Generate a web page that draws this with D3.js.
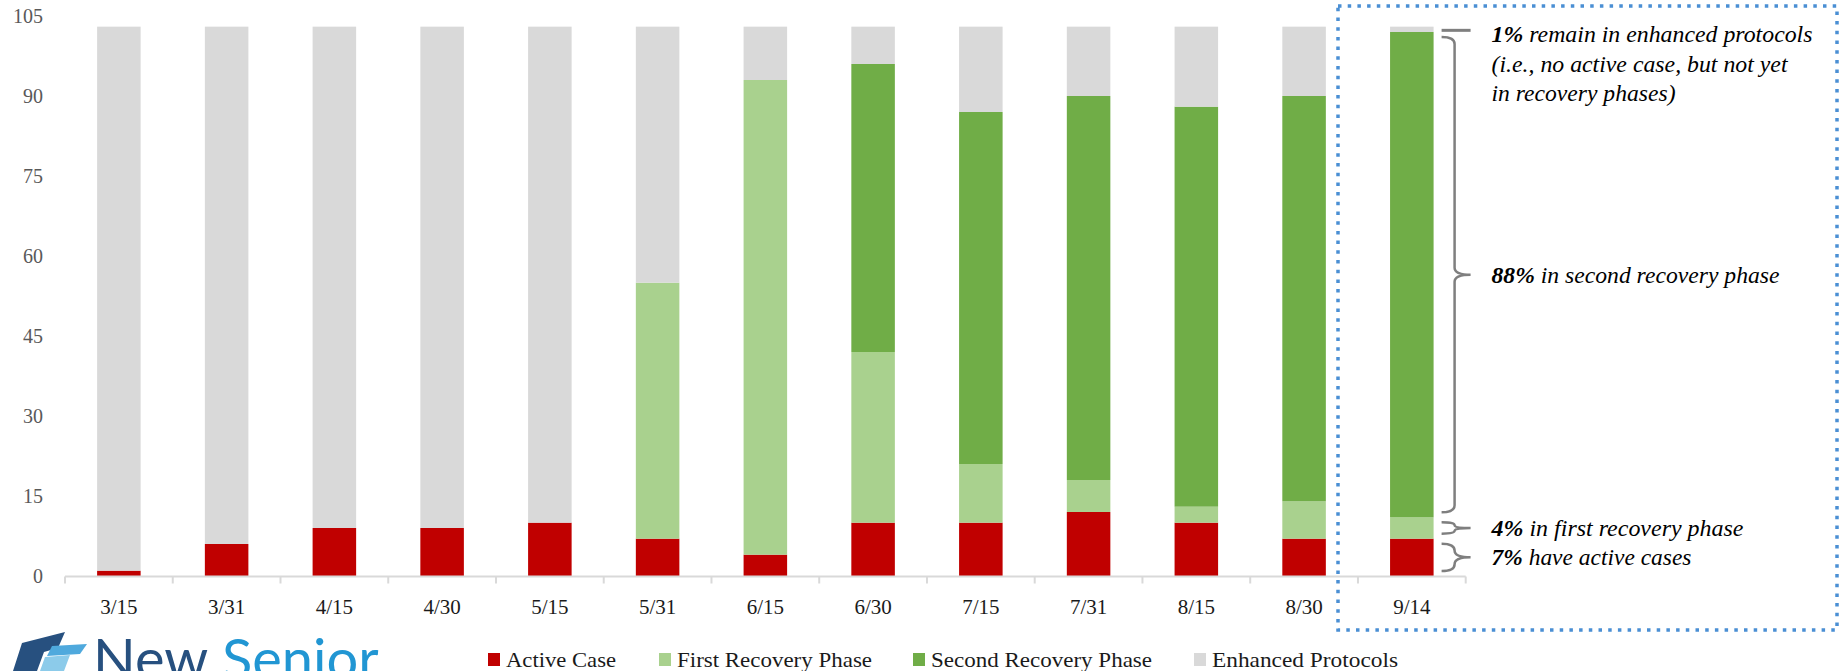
<!DOCTYPE html>
<html>
<head>
<meta charset="utf-8">
<script src="https://cdn.jsdelivr.net/npm/d3@7"></script>
<style>
  html, body { margin: 0; padding: 0; background: #fff; }
  #container { width: 1841px; height: 671px; overflow: hidden; }
  text { font-family: "Liberation Serif", "DejaVu Serif", serif; }
</style>
</head>
<body>
<div id="container"></div>
<script>
var dates = ["3/15", "3/31", "4/15", "4/30", "5/15", "5/31", "6/15", "6/30", "7/15", "7/31", "8/15", "8/30", "9/14"];
var activeCase = [1, 6, 9, 9, 10, 7, 4, 10, 10, 12, 10, 7, 7];
var firstRecovery = [0, 0, 0, 0, 0, 48, 89, 32, 11, 6, 3, 7, 4];
var secondRecovery = [0, 0, 0, 0, 0, 0, 0, 54, 66, 72, 75, 76, 91];
var enhancedProtocols = [102, 97, 94, 94, 93, 48, 10, 7, 16, 13, 15, 13, 1];
var seriesNames = ["Active Case", "First Recovery Phase", "Second Recovery Phase", "Enhanced Protocols"];
var seriesColors = ["#C00000", "#A9D18E", "#70AD47", "#D9D9D9"];
var yTicks = [0, 15, 30, 45, 60, 75, 90, 105];

// callouts for the last bar: range of values, bold lead, text lines
var callouts = [
    { lo: 0, hi: 7, bold: "7%", lines: [" have active cases"], widths: [200] },
    { lo: 7, hi: 11, bold: "4%", lines: [" in first recovery phase"], widths: [252] },
    { lo: 11, hi: 102, bold: "88%", lines: [" in second recovery phase"], widths: [288] },
    { lo: 102, hi: 103, bold: "1%", lines: [" remain in enhanced protocols", "(i.e., no active case, but not yet", "in recovery phases)"], widths: [321, 296, 184] }
];

var table = dates.map(function (d, i) {
    return {
        date: d,
        "Active Case": activeCase[i],
        "First Recovery Phase": firstRecovery[i],
        "Second Recovery Phase": secondRecovery[i],
        "Enhanced Protocols": enhancedProtocols[i]
    };
});

var width = 1841, height = 671;
var svg = d3.select("#container").append("svg")
    .attr("width", width)
    .attr("height", height);

svg.append("rect").attr("width", width).attr("height", height).attr("fill", "#fff");

var x = d3.scaleBand()
    .domain(dates)
    .range([65, 1465.7])
    .paddingInner(0.596)
    .paddingOuter(0.298);

var y = d3.scaleLinear()
    .domain([0, 105])
    .range([576, 16]);

var color = d3.scaleOrdinal().domain(seriesNames).range(seriesColors);

var stacked = d3.stack().keys(seriesNames)(table);

// bars
svg.append("g")
    .selectAll("g")
    .data(stacked)
    .join("g")
    .attr("fill", d => color(d.key))
    .selectAll("rect")
    .data(d => d)
    .join("rect")
    .attr("x", d => x(d.data.date))
    .attr("y", d => y(d[1]))
    .attr("width", x.bandwidth())
    .attr("height", d => y(d[0]) - y(d[1]));

// y axis labels only
var yAxis = svg.append("g")
    .attr("transform", "translate(43,0)")
    .call(d3.axisLeft(y).tickValues(yTicks).tickSize(0).tickPadding(0));
yAxis.attr("font-family", null);
yAxis.select(".domain").remove();
yAxis.selectAll("text")
    .attr("font-size", 20)
    .attr("fill", "#595959");

// x axis: baseline plus ticks between categories
var xAxis = svg.append("g").attr("transform", "translate(0,576.5)");
xAxis.append("line")
    .attr("x1", x.range()[0]).attr("x2", x.range()[1])
    .attr("stroke", "#D9D9D9").attr("stroke-width", 2);
var bounds = dates.map(d => x(d) - x.step() * x.paddingInner() / 2);
bounds.push(x.range()[1]);
xAxis.selectAll("line.tick")
    .data(bounds)
    .join("line")
    .attr("class", "tick")
    .attr("x1", d => d).attr("x2", d => d)
    .attr("y1", 0).attr("y2", 7)
    .attr("stroke", "#D9D9D9").attr("stroke-width", 2);
xAxis.selectAll("text")
    .data(dates)
    .join("text")
    .attr("x", d => x(d) + x.bandwidth() / 2)
    .attr("y", 37)
    .attr("text-anchor", "middle")
    .attr("font-size", 21)
    .attr("fill", "#1a1a1a")
    .text(d => d);

// callout braces next to the last bar
var lastX = x(dates[dates.length - 1]) + x.bandwidth();
var bx0 = lastX + 8, bxv = lastX + 21, bxt = lastX + 37;
var textX = 1491.5;

callouts.forEach(function (c) {
    var top = y(c.hi), bot = y(c.lo), mid;
    var g = svg.append("g");
    if (bot - top < 10) {
        mid = (top + bot) / 2 + 1;
        g.append("line")
            .attr("x1", bx0).attr("x2", bxt)
            .attr("y1", mid).attr("y2", mid)
            .attr("stroke", "#7F7F7F").attr("stroke-width", 3);
    } else {
        top += 5; bot -= 5;
        mid = (top + bot) / 2;
        var r = Math.min(7, (bot - top) / 4);
        var p = d3.path();
        p.moveTo(bx0, top);
        p.quadraticCurveTo(bxv, top, bxv, top + r);
        p.lineTo(bxv, mid - r);
        p.quadraticCurveTo(bxv, mid, bxt, mid);
        p.quadraticCurveTo(bxv, mid, bxv, mid + r);
        p.lineTo(bxv, bot - r);
        p.quadraticCurveTo(bxv, bot, bx0, bot);
        g.append("path")
            .attr("d", p.toString())
            .attr("fill", "none")
            .attr("stroke", "#7F7F7F").attr("stroke-width", 2.5);
    }
    c.lines.forEach(function (line, k) {
        var t = g.append("text")
            .attr("x", textX)
            .attr("y", (c.lines.length > 1 ? 42 : mid + 8) + k * 29.5)
            .attr("font-size", 23)
            .attr("font-style", "italic")
            .attr("fill", "#000")
            .attr("textLength", c.widths[k])
            .attr("lengthAdjust", "spacingAndGlyphs");
        if (k === 0) t.append("tspan").attr("font-weight", "bold").text(c.bold);
        t.append("tspan").text(line);
    });
});

// dotted highlight box
svg.append("rect")
    .attr("x", 1338).attr("y", 6)
    .attr("width", 499).attr("height", 624)
    .attr("fill", "none")
    .attr("stroke", "#4A8FD4")
    .attr("stroke-width", 3.5)
    .attr("stroke-dasharray", "3.5 6.2");

// legend
var legendX = [488, 659, 913, 1194];
var legendW = [110, 195, 221, 186];
var legend = svg.append("g").selectAll("g")
    .data(seriesNames)
    .join("g")
    .attr("transform", (d, i) => `translate(${legendX[i]},653)`);
legend.append("rect")
    .attr("width", 12).attr("height", 13)
    .attr("fill", d => color(d));
legend.append("text")
    .attr("x", 18).attr("y", 14)
    .attr("font-size", 22)
    .attr("fill", "#1a1a1a")
    .attr("textLength", (d, i) => legendW[i])
    .attr("lengthAdjust", "spacingAndGlyphs")
    .text(d => d);

// logo in the lower left corner, cut by the page edge
var logo = svg.append("g");
logo.append("path").attr("d", "M13,671 L22,643 L65,632 L58,648 L44,652 L37,671 Z").attr("fill", "#27507F");
logo.append("path").attr("d", "M52,646 L87,644 L80,654 L47,656 Z").attr("fill", "#4FA9DD");
logo.append("path").attr("d", "M45,657 L70,655 L64,671 L40,671 Z").attr("fill", "#8CCBEA");
logo.append("text")
    .attr("x", 93).attr("y", 679)
    .attr("font-size", 56)
    .style("font-family", "Lato, 'Open Sans', sans-serif")
    .attr("fill", "#27507F")
    .text("New");
logo.append("text")
    .attr("x", 222).attr("y", 679)
    .attr("font-size", 56)
    .style("font-family", "Lato, 'Open Sans', sans-serif")
    .attr("fill", "#2196D3")
    .text("Senior");
</script>
</body>
</html>
